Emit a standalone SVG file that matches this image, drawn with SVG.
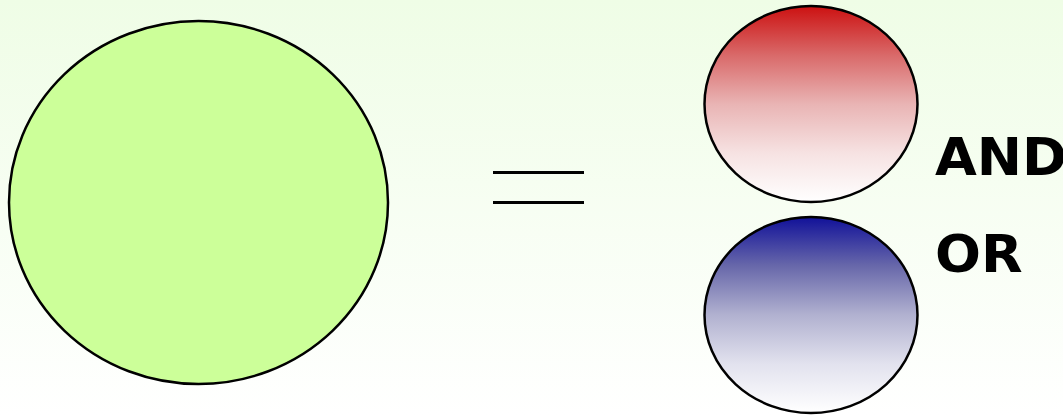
<svg xmlns="http://www.w3.org/2000/svg" width="1063" height="415" viewBox="0 0 1063 415">
<defs>
<linearGradient id="bg" x1="0" y1="0" x2="0" y2="1">
<stop offset="0" stop-color="#effde6"/>
<stop offset="1" stop-color="#ffffff"/>
</linearGradient>
<linearGradient id="red" x1="0" y1="0" x2="0" y2="1">
<stop offset="0" stop-color="#cc1111"/>
<stop offset="0.25" stop-color="#d96969"/>
<stop offset="0.5" stop-color="#e9b4b4"/>
<stop offset="0.75" stop-color="#f6e2e2"/>
<stop offset="1" stop-color="#ffffff"/>
</linearGradient>
<linearGradient id="blue" x1="0" y1="0" x2="0" y2="1">
<stop offset="0" stop-color="#111199"/>
<stop offset="0.25" stop-color="#6868aa"/>
<stop offset="0.5" stop-color="#b1b1d0"/>
<stop offset="0.75" stop-color="#e2e2ee"/>
<stop offset="1" stop-color="#ffffff"/>
</linearGradient>
<style>
.node{stroke:#000;stroke-width:2.5}
.lbl{font-family:"DejaVu Sans",sans-serif;font-weight:bold;font-size:52px;fill:#000}
.eq{stroke:#000;stroke-width:2.8}
</style>
</defs>
<rect x="0" y="0" width="1063" height="415" fill="url(#bg)"/>
<g id="big">
<ellipse class="node" cx="198.5" cy="202.5" rx="189.5" ry="181.5" fill="#ccff99"/>
</g>
<g id="equals">
<line class="eq" x1="493" y1="172.5" x2="584" y2="172.5"/>
<line class="eq" x1="493" y1="202.5" x2="584" y2="202.5"/>
</g>
<g id="red-node">
<ellipse class="node" cx="811" cy="104" rx="106.5" ry="98" fill="url(#red)"/>
</g>
<g id="blue-node">
<ellipse class="node" cx="811" cy="315" rx="106.5" ry="98" fill="url(#blue)"/>
</g>
<g id="labels">
<text class="lbl" transform="translate(935,174.5) scale(1.04,1)">AND</text>
<text class="lbl" transform="translate(935,271.5) scale(1.04,1)">OR</text>
</g>
</svg>
